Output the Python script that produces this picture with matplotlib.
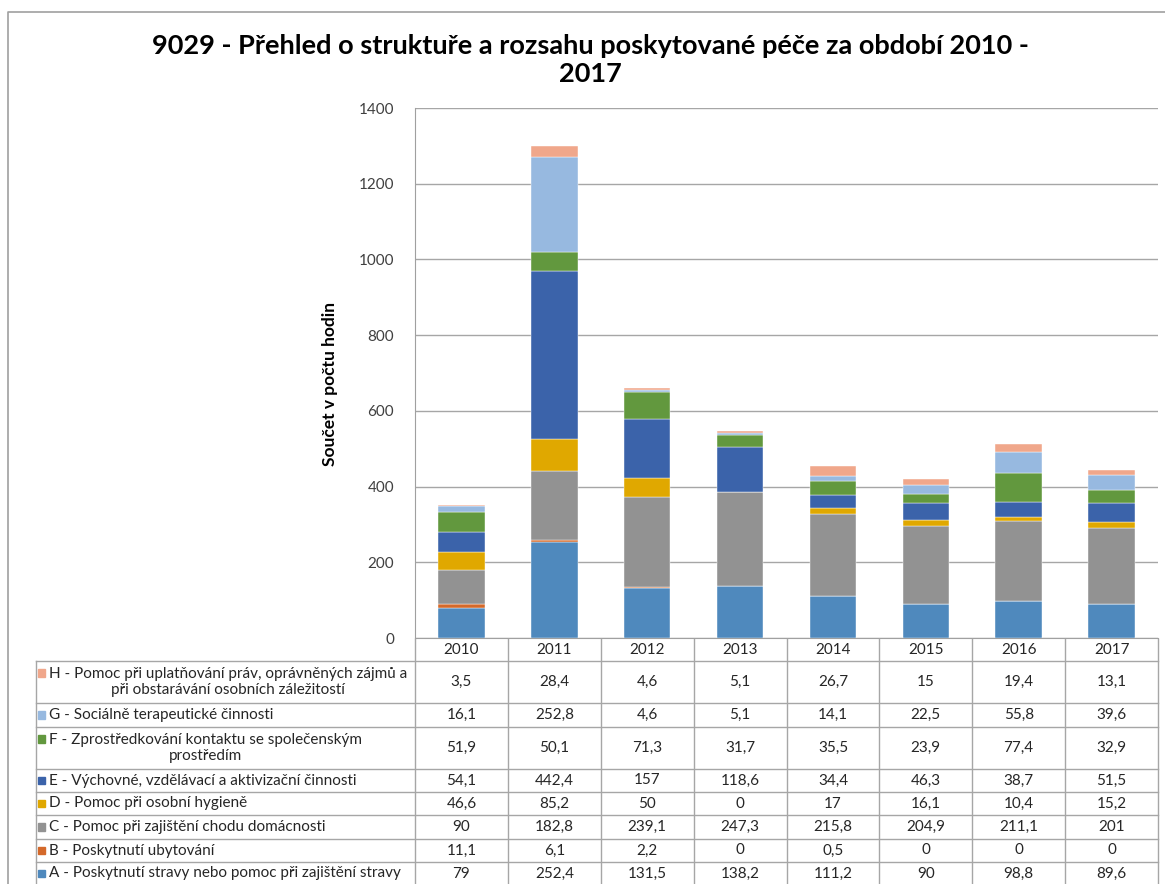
import matplotlib.pyplot as plt
import matplotlib.transforms as mtransforms
from matplotlib.patches import Rectangle
import numpy as np

plt.rcParams['font.family'] = ['Lato', 'DejaVu Sans']

years = ['2010', '2011', '2012', '2013', '2014', '2015', '2016', '2017']

# categories, bottom of the stack first
labels = [
    'A - Poskytnutí stravy nebo pomoc při zajištění stravy',
    'B - Poskytnutí ubytování',
    'C - Pomoc při zajištění chodu domácnosti',
    'D - Pomoc při osobní hygieně',
    'E - Výchovné, vzdělávací a aktivizační činnosti',
    'F - Zprostředkování kontaktu se společenským\nprostředím',
    'G - Sociálně terapeutické činnosti',
    'H - Pomoc při uplatňování práv, oprávněných zájmů a\npři obstarávání osobních záležitostí',
]
vals_a = [79, 252.4, 131.5, 138.2, 111.2, 90, 98.8, 89.6]
vals_b = [11.1, 6.1, 2.2, 0, 0.5, 0, 0, 0]
vals_c = [90, 182.8, 239.1, 247.3, 215.8, 204.9, 211.1, 201]
vals_d = [46.6, 85.2, 50, 0, 17, 16.1, 10.4, 15.2]
vals_e = [54.1, 442.4, 157, 118.6, 34.4, 46.3, 38.7, 51.5]
vals_f = [51.9, 50.1, 71.3, 31.7, 35.5, 23.9, 77.4, 32.9]
vals_g = [16.1, 252.8, 4.6, 5.1, 14.1, 22.5, 55.8, 39.6]
vals_h = [3.5, 28.4, 4.6, 5.1, 26.7, 15, 19.4, 13.1]
series = [vals_a, vals_b, vals_c, vals_d, vals_e, vals_f, vals_g, vals_h]
colors = ['#4F89BD', '#D4692A', '#929292', '#E0A800',
          '#3B63AA', '#62983E', '#97B9E0', '#F0A78B']

W, H = 1165, 884
fig = plt.figure(figsize=(W / 100, H / 100), dpi=100)

# plot area in pixel units
px_l, px_r, px_t, px_b = 415, 1158, 108, 638
ax = fig.add_axes([px_l / W, 1 - px_b / H, (px_r - px_l) / W, (px_b - px_t) / H])

x = np.arange(len(years))
bottom = np.zeros(len(years))
for vals, col in zip(series, colors):
    ax.bar(x, vals, 0.5, bottom=bottom, color=col, edgecolor='white', linewidth=0.3, zorder=3)
    bottom += np.array(vals)

ax.set_xlim(-0.5, len(years) - 0.5)
ax.set_ylim(0, 1400)
ax.set_yticks(np.arange(0, 1401, 200))
ax.set_xticks([])
ax.tick_params(axis='y', length=0, pad=15, labelsize=11, colors='#404040')
ax.grid(axis='y', color='#A6A6A6', linewidth=1, zorder=0)
for s in ['top', 'right']:
    ax.spines[s].set_visible(False)
ax.spines['left'].set_color('#A0A0A0')
ax.spines['bottom'].set_color('#A0A0A0')
ax.set_ylabel('Součet v počtu hodin', fontsize=12.5, fontweight='bold')
ax.yaxis.set_label_coords(-0.104, 0.479)

# overlay in pixel coords for table and frame
ov = fig.add_axes([0, 0, 1, 1], zorder=5)
ov.set_xlim(0, W)
ov.set_ylim(H, 0)
ov.axis('off')
ov.patch.set_alpha(0)
blend = mtransforms.blended_transform_factory(ax.transData, ov.transData)

# outer chart frame
ov.plot([8, 8, W], [H, 12, 12], color='#A0A0A0', lw=1.2)

line_col = '#A6A6A6'
row_edges = [639, 661, 703, 727, 769, 792, 815, 839, 862, 885]
tab_l = 36

# header row with years
for i, yr in enumerate(years):
    ov.text(i, (row_edges[0] + row_edges[1]) / 2, yr, transform=blend,
            ha='center', va='center', fontsize=11, color='#262626')

# vertical dividers of value columns
for k in range(len(years) + 1):
    ov.plot([k - 0.5, k - 0.5], [row_edges[0], H], transform=blend, color=line_col, lw=1)
ov.plot([tab_l, tab_l], [row_edges[1], H], color=line_col, lw=1)

# horizontal row lines
for ye in row_edges[1:]:
    ov.plot([tab_l, px_r], [ye, ye], color=line_col, lw=1)

def fmt(v):
    s = ('%g' % v)
    return s.replace('.', ',')

# table rows, top row is the last series
for r in range(len(series)):
    si = len(series) - 1 - r
    y0, y1 = row_edges[r + 1], row_edges[r + 2]
    yc = (y0 + y1) / 2
    two = '\n' in labels[si]
    ky = yc - 9 if two else yc
    ov.add_patch(Rectangle((38, ky - 4), 7, 7.5, color=colors[si]))
    ov.text(49, yc, labels[si], ha='left', va='center', multialignment='center',
            fontsize=11, color='#262626', linespacing=1.25)
    for i, v in enumerate(series[si]):
        ov.text(i, yc, fmt(v), transform=blend, ha='center', va='center',
                fontsize=11, color='#262626')

fig.text(590 / W, 1 - 46 / H, '9029 - Přehled o struktuře a rozsahu poskytované péče za období 2010 -',
         ha='center', va='center', fontsize=19.5, fontweight='bold')
fig.text(590 / W, 1 - 74 / H, '2017', ha='center', va='center', fontsize=19.5, fontweight='bold')

fig.savefig('out.png', dpi=100)
